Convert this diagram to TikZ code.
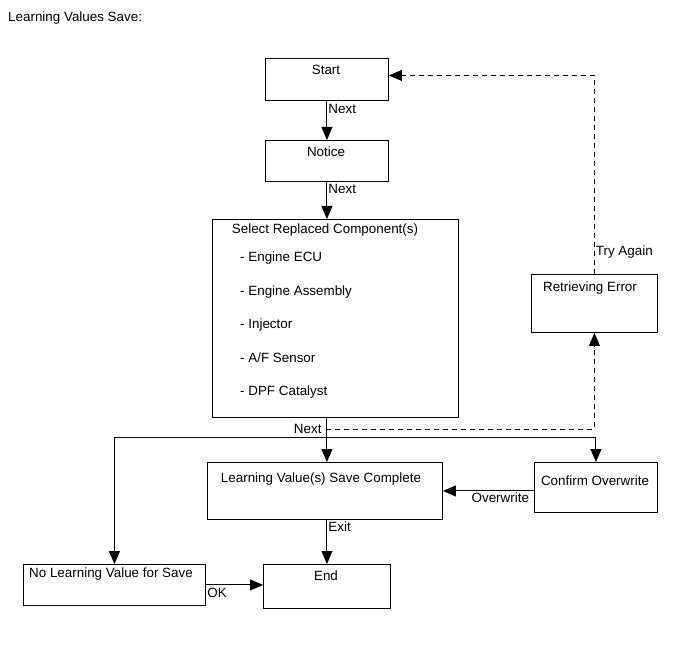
\documentclass[tikz,border=0pt]{standalone}
\usepackage{fontspec}
\setmainfont{Liberation Sans}
\usepackage{tikz}
\usetikzlibrary{arrows.meta,positioning}

\begin{document}
\begin{tikzpicture}[
  x=1pt,y=-1pt,
  font=\fontsize{13.4}{16}\selectfont,
  box/.style={draw,line width=0.9pt,anchor=north west,inner sep=0pt},
  txt/.style={inner sep=0pt},
  arrow/.style={-{Triangle[length=13pt,width=11pt]},line width=0.95pt},
  note/.style={inner sep=1pt}
]
\useasboundingbox (0,0) rectangle (691,660);
\node[txt,anchor=west] (title) at (8,18) {Learning Values Save:};
% boxes
\node[box,minimum width=123pt,minimum height=42pt] (start) at (265,58) {};
\node[box,minimum width=123pt,minimum height=41pt] (notice) at (265,140) {};
\node[box,minimum width=246pt,minimum height=198pt] (select) at (212,219) {};
\node[box,minimum width=126pt,minimum height=58pt] (reterr) at (531,274) {};
\node[box,minimum width=235pt,minimum height=57pt] (complete) at (207,462) {};
\node[box,minimum width=123pt,minimum height=50pt] (confirm) at (534,462) {};
\node[box,minimum width=182pt,minimum height=41pt] (nolv) at (23,564) {};
\node[box,minimum width=127pt,minimum height=44pt] (end) at (263,564) {};
% texts
\node[txt] (starttxt) at (326,70) {Start};
\node[txt] (noticetxt) at (326,152) {Notice};
\node[txt] (selecttxt) at (325,230) {Select Replaced Component(s)};
\node[txt,anchor=west] (ecu) at (240,258) {- Engine ECU};
\node[txt,anchor=west] (assy) at (240,292) {- Engine Assembly};
\node[txt,anchor=west] (inj) at (240,325) {- Injector};
\node[txt,anchor=west] (afs) at (240,358) {- A/F Sensor};
\node[txt,anchor=west] (dpf) at (240,392) {- DPF Catalyst};
\node[txt] (reterrtxt) at (590,288) {Retrieving Error};
\node[txt] (completetxt) at (321,479) {Learning Value(s) Save Complete};
\node[txt] (confirmtxt) at (595,481) {Confirm Overwrite};
\node[txt] (nolvtxt) at (111,574) {No Learning Value for Save};
\node[txt] (endtxt) at (326,576) {End};
% connectors
\coordinate (split) at (326,429);
\coordinate (fork) at (326,437);
\draw[arrow] (start.south) -- node[note,anchor=west,pos=0.2]{Next} (notice.north);
\draw[arrow] (notice.south) -- node[note,anchor=west,pos=0.2]{Next} (notice.south |- select.north);
\draw[arrow] (notice.south |- select.south) -- node[note,anchor=east,pos=0.25,xshift=-4pt]{Next} (notice.south |- complete.north);
\draw[arrow,dashed,dash pattern=on 5pt off 4pt] (split) -| (reterr.south);
\draw[arrow,dashed,dash pattern=on 5pt off 4pt] (reterr.north) |- node[note,anchor=west,pos=0.055]{Try Again} ([yshift=4pt]start.east);
\draw[arrow] (fork) -| (nolv.north);
\draw[arrow] (fork) -| (confirm.north);
\draw[arrow] (complete.east -| confirm.west) -- node[note,below,pos=0.37]{Overwrite} (complete.east);
\draw[arrow] (notice.south |- complete.south) -- node[note,anchor=north west,pos=0]{Exit} (notice.south |- end.north);
\draw[arrow] (nolv.east) -- node[note,anchor=north west,pos=0,yshift=-2pt]{OK} (nolv.east -| end.west);
\end{tikzpicture}
\end{document}
